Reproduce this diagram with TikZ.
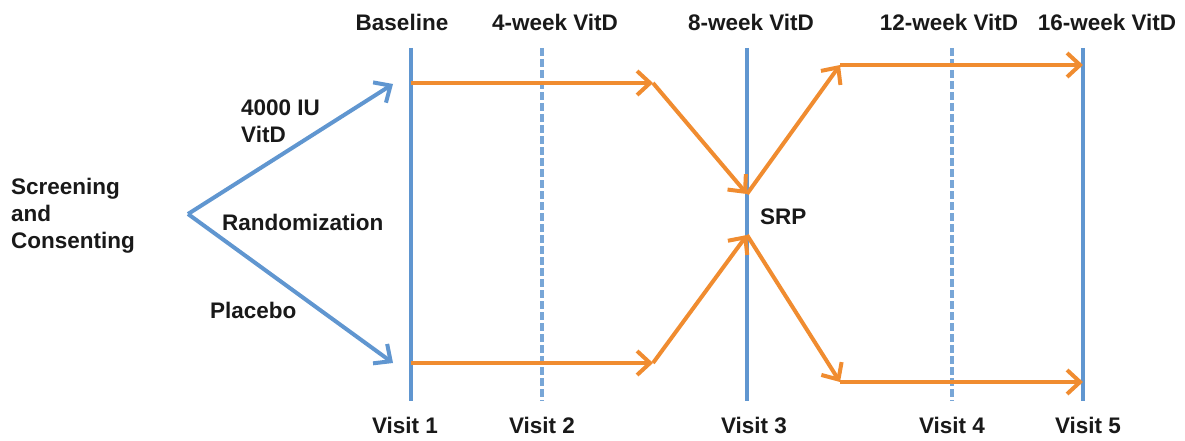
\documentclass[tikz,border=0pt]{standalone}
\usepackage{fontspec}
\setmainfont{Liberation Sans}
\usetikzlibrary{arrows.meta}
\definecolor{vblue}{RGB}{96,150,208}
\definecolor{vorange}{RGB}{240,140,48}
\tikzset{
  lbl/.style={font=\bfseries\fontsize{22.5}{27}\selectfont, inner sep=0pt, text=black!90},
  visitline/.style={draw=vblue, line width=4pt},
  visitdash/.style={draw=vblue!85, line width=4pt, dash pattern=on 8pt off 3pt},
  barb/.style={-{Straight Barb[length=13pt,width=24pt]}},
  bluearrow/.style={draw=vblue, line width=4pt, barb},
  orangearrow/.style={draw=vorange, line width=4pt, barb},
}
\begin{document}
\begin{tikzpicture}[x=1pt,y=-1pt]
\useasboundingbox (0,0) rectangle (1185,441);
% visit lines
\coordinate (v1t) at (411,48); \coordinate (v1b) at (411,401);
\coordinate (v2t) at (542,48); \coordinate (v2b) at (542,401);
\coordinate (v3t) at (747,48); \coordinate (v3b) at (747,401);
\coordinate (v4t) at (952,48); \coordinate (v4b) at (952,401);
\coordinate (v5t) at (1083,48); \coordinate (v5b) at (1083,401);
\draw[visitline] (v1t) -- (v1b);
\draw[visitdash] (v2t) -- (v2b);
\draw[visitline] (v3t) -- (v3b);
\draw[visitdash] (v4t) -- (v4b);
\draw[visitline] (v5t) -- (v5b);
% top labels
\node[lbl] (tb) at (402,22) {Baseline};
\node[lbl] (t4) at (555,22) {4-week VitD};
\node[lbl] (t8) at (751,22) {8-week VitD};
\node[lbl] (t12) at (949,22) {12-week VitD};
\node[lbl] (t16) at (1107,22) {16-week VitD};
% bottom labels
\node[lbl] (b1) at (405,425) {Visit 1};
\node[lbl] (b2) at (542,425) {Visit 2};
\node[lbl] (b3) at (754,425) {Visit 3};
\node[lbl] (b4) at (952,425) {Visit 4};
\node[lbl] (b5) at (1088,425) {Visit 5};
% left text
\node[lbl, anchor=west, align=left] (scr) at (11,216) {Screening\\and\\Consenting};
\node[lbl, anchor=west, align=left] (vitd) at (241,121) {4000 IU\\VitD};
\node[lbl, anchor=west] (rand) at (222,222) {Randomization};
\node[lbl, anchor=west] (plac) at (210,310) {Placebo};
\node[lbl, anchor=west] (srp) at (760,217) {SRP};
% randomization arrows
\coordinate (r0) at (188,214);
\coordinate (rt) at (393,84);
\coordinate (rb) at (393,363);
\draw[bluearrow] (r0) -- (rt);
\draw[bluearrow] (r0) -- (rb);
% orange paths
\coordinate (a0) at (411,83); \coordinate (a1) at (653,83);
\coordinate (c1) at (747,194); \coordinate (c2) at (747,235);
\coordinate (u1) at (840,65); \coordinate (u2) at (1083,65);
\coordinate (d0) at (411,363); \coordinate (d1) at (653,363);
\coordinate (l1) at (840,382); \coordinate (l2) at (1083,382);
\draw[orangearrow] (a0) -- (a1);
\draw[orangearrow] (a1) -- (c1);
\draw[orangearrow] (c1) -- (u1);
\draw[orangearrow] (u1) -- (u2);
\draw[orangearrow] (d0) -- (d1);
\draw[orangearrow] (d1) -- (c2);
\draw[orangearrow] (c2) -- (l1);
\draw[orangearrow] (l1) -- (l2);
\end{tikzpicture}
\end{document}
